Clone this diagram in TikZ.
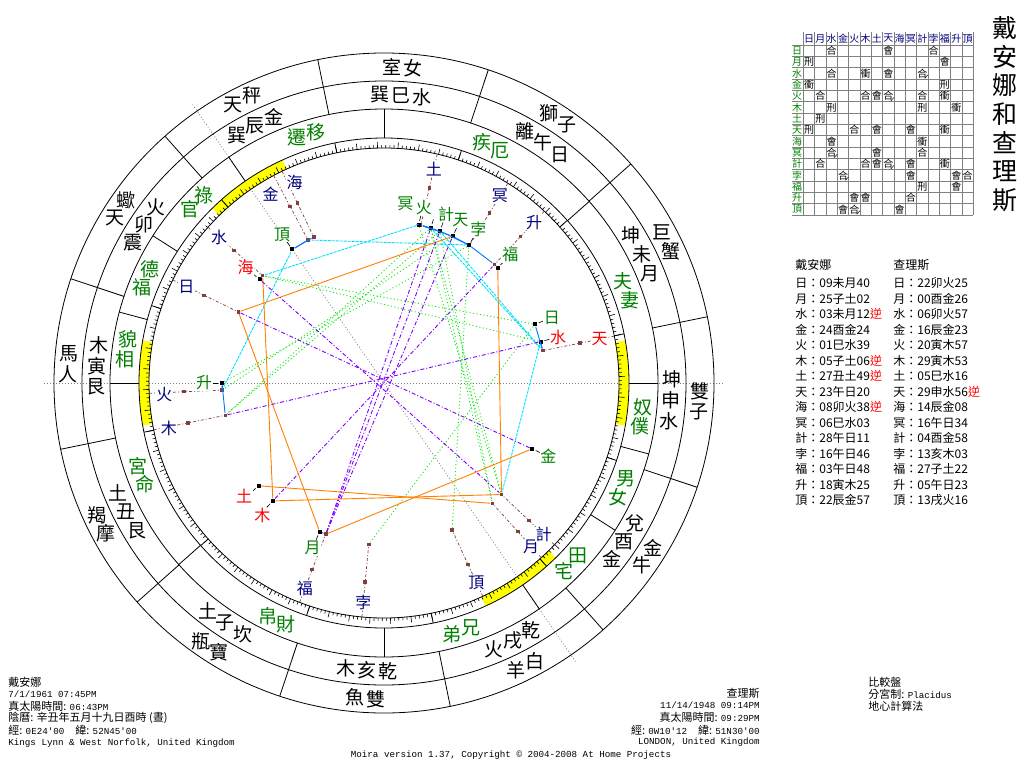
\documentclass[tikz,border=0pt]{standalone}
\usepackage{fontspec}
\setmainfont{Noto Sans CJK TC}
\setmonofont{Liberation Mono}
\usetikzlibrary{positioning}

\definecolor{navyc}{RGB}{0,0,128}
\definecolor{greenc}{RGB}{0,128,0}
\definecolor{brownc}{RGB}{128,64,64}
\definecolor{orangec}{RGB}{255,128,0}
\definecolor{limec}{RGB}{0,235,0}
\definecolor{cyanc}{RGB}{0,225,255}
\definecolor{bluec}{RGB}{0,120,255}
\definecolor{purplec}{RGB}{128,0,255}
\definecolor{yellowc}{RGB}{255,255,0}

\newcommand\retro{\textcolor{red}{逆}}
\newcommand\lat[1]{{\fontsize{9.2}{9.2}\selectfont\ttfamily #1}}

\begin{document}
\begin{tikzpicture}[x=1pt, y=1pt, line width=0.8pt,
  ringtext/.style={font=\fontsize{19}{19}\selectfont, inner sep=0pt},
  housetext/.style={ringtext, text=greenc},
  plabel/.style={font=\fontsize{16}{16}\selectfont, inner sep=0.5pt, fill=white},
  browndot/.style={rectangle, fill=brownc, minimum size=3.5pt, inner sep=0pt},
  blackdot/.style={rectangle, fill=black, minimum size=4pt, inner sep=0pt},
  brownline/.style={brownc, line width=0.7pt, dash pattern=on 3pt off 2pt on 1pt off 2pt},
  asptrine/.style={limec, line width=0.9pt, dash pattern=on 1pt off 2.5pt},
  aspsextile/.style={cyanc, line width=0.9pt, dash pattern=on 3pt off 1pt},
  aspsquare/.style={orangec, line width=0.9pt},
  aspopp/.style={purplec, line width=0.9pt, dash pattern=on 4pt off 2pt on 1pt off 2pt},
  aspconj/.style={bluec, line width=0.9pt},
  axisline/.style={gray, line width=0.7pt, dash pattern=on 1pt off 2pt},
  gridline/.style={gray, line width=0.6pt},
  gridhead/.style={font=\fontsize{10}{10}\selectfont, inner sep=0pt},
  gridglyph/.style={font=\fontsize{10}{10}\selectfont, inner sep=0pt},
  tablerow/.style={anchor=west, font=\fontsize{12}{12}\selectfont, inner sep=0pt},
  info/.style={anchor=west, font=\fontsize{11}{11}\selectfont, inner sep=0pt},
  inforight/.style={info, anchor=east},
  titlechar/.style={font=\fontsize{25}{25}\selectfont, inner sep=0pt},
]

  \useasboundingbox (0,0) rectangle (1024,-768);
  \fill[white] (0,0) rectangle (1024,-768);

  \begin{scope}[shift={(384,-383)}]

  % --- Assi ASC / MC ---
  \draw[axisline] (180:340) -- (0:340);
  \draw[axisline] (124.5:338) -- (304.5:340);

  % --- Fasce gialle sugli angoli ---
  \foreach \c in {0,124.5,180,304.5}
    \fill[yellowc] ({\c-10}:235) arc[start angle={\c-10}, end angle={\c+10}, radius=235]
      -- ({\c+10}:245) arc[start angle={\c+10}, end angle={\c-10}, radius=245] -- cycle;

  % --- Cerchi ---
  \foreach \r in {330,302,274,245,235}
    \draw (0,0) circle[radius=\r];

  % --- Tacche dei gradi ---
  \foreach \d in {0,...,359} {
    \pgfmathsetmacro\tl{ifthenelse(mod(\d,5)==0,6,3)}
    \draw[line width=0.6pt] ({\d-78.42}:235) -- ({\d-78.42}:{235+\tl});
  }

  % --- Divisioni dei segni ---
  \foreach \k in {0,...,11}
    \draw ({11.58+30*\k}:235) -- ({11.58+30*\k}:245)
          ({11.58+30*\k}:274) -- ({11.58+30*\k}:330);

  % --- Cuspidi delle case ---
  \foreach \c in {0,41.5,90,124.5,147.5,165,180,221.5,270,304.5,327.5,345}
    \draw (\c:245) -- (\c:274);

  % --- Segni e rami ---
  \foreach \k/\za/\zb/\ba/\bb/\bc in {0/白/羊/乾/戌/火, 1/金/牛/兌/酉/金, 2/雙/子/坤/申/水,
      3/巨/蟹/坤/未/月, 4/獅/子/離/午/日, 5/室/女/巽/巳/水, 6/天/秤/巽/辰/金,
      7/天/蠍/震/卯/火, 8/人/馬/艮/寅/木, 9/摩/羯/艮/丑/土, 10/寶/瓶/坎/子/土,
      11/雙/魚/乾/亥/木} {
    \pgfmathsetmacro\m{30*\k-63.42}
    \node[ringtext] (zodA\k) at ({\m+1.9}:316) {\za};
    \node[ringtext] (zodB\k) at ({\m-1.9}:316) {\zb};
    \node[ringtext] (brA\k) at ({\m+4.2}:288) {\ba};
    \node[ringtext] (brB\k) at (\m:288) {\bb};
    \node[ringtext] (brC\k) at ({\m-4.2}:288) {\bc};
  }

  % --- Nomi delle case ---
  \foreach \n/\m/\ha/\hb in {1/200.75/命/宮, 2/245.75/財/帛, 3/287.25/兄/弟, 4/316/田/宅,
      5/336.25/男/女, 6/352.5/奴/僕, 7/20.75/夫/妻, 8/65.75/疾/厄, 9/107.25/遷/移,
      10/136/官/祿, 11/156.25/福/德, 12/172.5/相/貌} {
    \node[housetext] (hsA\n) at ({\m+2.2}:260) {\ha};
    \node[housetext] (hsB\n) at ({\m-2.2}:260) {\hb};
  }

  % --- Pianeti esterni (查理斯) ---
  \foreach \nm/\a/\la/\ch/\col in {cSun/154.0/154.0/日/navyc, cMoon/312.0/312.0/月/navyc,
      cMerc/138.5/138.5/水/navyc, cVen/118.0/121.0/金/navyc, cMars/182.5/183.0/火/navyc,
      cJup/191.5/192.0/木/navyc, cSat/76.9/76.9/土/navyc, cUra/11.5/11.5/天/red,
      cNep/115.7/114.0/海/navyc, cPlu/58.2/58.2/冥/navyc, cKetu/316.5/316.5/計/navyc,
      cBei/264.6/264.6/孛/navyc, cFu/248.95/248.95/福/navyc, cAsc/47.0/47.0/升/navyc,
      cMc/294.85/294.85/頂/navyc} {
    \draw[brownline] (\a:235) -- (\a:162);
    \node[browndot] (\nm-m) at (\a:200) {};
    \node[browndot] (\nm) at (\a:162) {};
    \node[plabel, text=\col] (\nm-l) at (\la:220) {\ch};
  }

  % --- Pianeti interni (戴安娜) ---
  \foreach \nm/\a/\la/\ch/\col in {dSun/21.25/21.25/日/greenc, dMoon/246.6/246.6/月/greenc,
      dMerc/14.8/14.8/水/red, dVen/336.0/336.0/金/greenc, dMars/73.2/77.2/火/greenc,
      dJup/226.7/227.5/木/red, dSat/219.4/219.0/土/red, dUra/64.9/64.9/天/greenc,
      dNep/140.2/140.2/海/red, dPlu/77.6/83.2/冥/greenc, dKetu/69.8/69.8/計/greenc,
      dBei/58.4/58.4/孛/greenc, dFu/45.4/45.4/福/greenc, dAsc/180/180/升/greenc,
      dMc/124.5/124.5/頂/greenc} {
    \draw[line width=0.6pt] (\a:166) -- (\a:171);
    \node[blackdot] (\nm) at (\a:162) {};
    \node[plabel, text=\col] (\nm-l) at (\la:180) {\ch};
  }

  % --- Aspetti ---
  \foreach \p/\q in {dSun/cMerc, dSun/cBei, dMerc/cMerc, dMars/cMoon, dMars/cJup,
      dMars/cKetu, dUra/cMars, dPlu/cKetu, dKetu/cMoon, dKetu/cJup, dBei/cMc, dAsc/cPlu}
    \draw[asptrine] (\p) -- (\q);
  \foreach \p/\q in {dMerc/cKetu, dMars/cUra, dPlu/cMerc, dKetu/cUra, dBei/cVen, dMc/cMars}
    \draw[aspsextile] (\p) -- (\q);
  \foreach \p/\q in {dMoon/cSun, dVen/cFu, dJup/cMerc, dJup/cKetu, dSat/cMoon, dUra/cSun,
      dFu/cKetu}
    \draw[aspsquare] (\p) -- (\q);
  \foreach \p/\q in {dMerc/cJup, dVen/cSun, dMars/cFu, dJup/cAsc, dUra/cFu, dNep/cKetu,
      dKetu/cFu}
    \draw[aspopp] (\p) -- (\q);
  \foreach \p/\q in {dSun/cUra, dMoon/cFu, dMerc/cUra, dMars/cSat, dUra/cSat, dUra/cPlu,
      dNep/cMerc, dPlu/cSat, dKetu/cSat, dKetu/cPlu, dBei/cPlu, dBei/cAsc, dFu/cAsc,
      dAsc/cMars, dAsc/cJup, dMc/cVen, dMc/cNep}
    \draw[aspconj] (\p) -- (\q);

  \end{scope}

  % --- Titolo verticale ---
  \foreach \ch [count=\i from 0] in {戴,安,娜,和,查,理,斯}
    \node[titlechar] (title\i) at (1005,{-28-28.7*\i}) {\ch};

  % --- Griglia degli aspetti ---
  \foreach \i in {0,...,15} {
    \draw[gridline] (792,{-45-11.33*\i}) -- (973.3,{-45-11.33*\i});
    \draw[gridline] ({803.3+11.33*\i},-32) -- ({803.3+11.33*\i},-215);
  }
  \foreach \ch [count=\j from 0] in {日,月,水,金,火,木,土,天,海,冥,計,孛,福,升,頂} {
    \node[gridhead, text=navyc] (colh\j) at ({809+11.33*\j},-38.5) {\ch};
    \node[gridhead, text=greenc] (rowh\j) at (797,{-50.7-11.33*\j}) {\ch};
  }
  \foreach \r/\c/\g in {0/2/合, 0/7/會, 0/11/合, 1/0/刑, 1/12/會, 2/2/合, 2/5/衝, 2/7/會,
      2/10/合, 3/0/衝, 3/12/刑, 4/1/合, 4/5/合, 4/6/會, 4/7/合, 4/10/合, 4/12/衝,
      5/2/刑, 5/10/刑, 5/13/衝, 6/1/刑, 7/0/刑, 7/4/合, 7/6/會, 7/9/會, 7/12/衝,
      8/2/會, 8/10/衝, 9/2/合, 9/6/會, 9/10/合, 10/1/合, 10/5/合, 10/6/會, 10/7/合,
      10/9/會, 10/12/衝, 11/3/合, 11/9/會, 11/13/會, 11/14/合, 12/10/刑, 12/13/會,
      13/4/會, 13/5/會, 13/9/合, 14/3/會, 14/4/合, 14/8/會}
    \node[gridglyph] (cell\r-\c) at ({809+11.33*\c},{-50.7-11.33*\r}) {\g};
  % sestili: segno obliquo
  \foreach \r/\c in {2/10, 4/7, 9/2, 10/7, 11/3, 14/4}
    \draw[line width=0.5pt] ({809+11.33*\c+2.5},{-50.7-11.33*\r-5}) -- ({809+11.33*\c+5.5},{-50.7-11.33*\r-1.5});

  % --- Tabella delle posizioni ---
  \node[tablerow] (dHead) at (795,-265) {戴安娜};
  \node[tablerow] (cHead) at (893,-265) {查理斯};
  \foreach \la/\lb [count=\i from 0] in {
      {日：09未月40}/{日：22卯火25}, {月：25子土02}/{月：00酉金26},
      {水：03未月12\retro}/{水：06卯火57}, {金：24酉金24}/{金：16辰金23},
      {火：01巳水39}/{火：20寅木57}, {木：05子土06\retro}/{木：29寅木53},
      {土：27丑土49\retro}/{土：05巳水16}, {天：23午日20}/{天：29申水56\retro},
      {海：08卯火38\retro}/{海：14辰金08}, {冥：06巳水03}/{冥：16午日34},
      {計：28午日11}/{計：04酉金58}, {孛：16午日46}/{孛：13亥木03},
      {福：03午日48}/{福：27子土22}, {升：18寅木25}/{升：05午日23},
      {頂：22辰金57}/{頂：13戌火16}} {
    \node[tablerow] (dRow\i) at (795,{-283-15.5*\i}) {\la};
    \node[tablerow] (cRow\i) at (893,{-283-15.5*\i}) {\lb};
  }

  % --- Dati di nascita ---
  \node[info] (dName) at (8,-682) {戴安娜};
  \node[info] (dDate) at (8,-694) {\lat{7/1/1961 07:45PM}};
  \node[info] (dSolar) at (8,-706) {真太陽時間: \lat{06:43PM}};
  \node[info] (dLunar) at (8,-718) {陰曆: 辛丑年五月十九日酉時 (晝)};
  \node[info] (dGeo) at (8,-730) {經: \lat{0E24'00}\quad 緯: \lat{52N45'00}};
  \node[info] (dPlace) at (8,-743) {\lat{Kings Lynn \& West Norfolk, United Kingdom}};

  \node[inforight] (cName) at (760,-693) {查理斯};
  \node[inforight] (cDate) at (760,-705) {\lat{11/14/1948 09:14PM}};
  \node[inforight] (cSolar) at (760,-717) {真太陽時間: \lat{09:29PM}};
  \node[inforight] (cGeo) at (760,-730) {經: \lat{0W10'12}\quad 緯: \lat{51N30'00}};
  \node[inforight] (cPlace) at (760,-742) {\lat{LONDON, United Kingdom}};

  \node[info] (mode) at (868,-682) {比較盤};
  \node[info] (system) at (868,-694) {分宮制: \lat{Placidus}};
  \node[info] (method) at (868,-706) {地心計算法};

  \node[inner sep=0pt] (credits) at (511,-755) {\lat{Moira version 1.37, Copyright © 2004-2008 At Home Projects}};

\end{tikzpicture}
\end{document}
